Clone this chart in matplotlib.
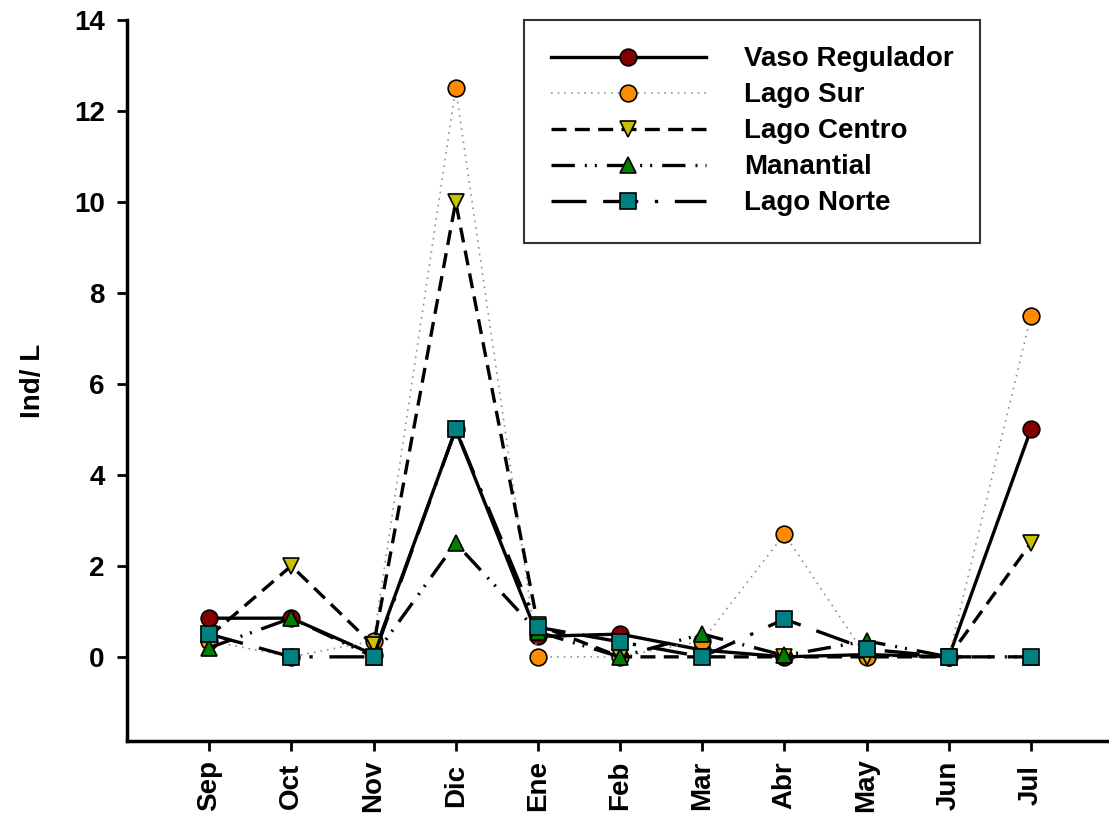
import numpy as np
import matplotlib
matplotlib.use("Agg")
import matplotlib.pyplot as plt
from matplotlib.lines import Line2D

plt.rcParams['font.family'] = ['Liberation Sans', 'DejaVu Sans']
plt.rcParams['font.weight'] = 'bold'

# data
months = ["Sep", "Oct", "Nov", "Dic", "Ene", "Feb", "Mar", "Abr", "May", "Jun", "Jul"]
vaso_regulador = [0.85, 0.85, 0.05, 5.0, 0.45, 0.5, 0.15, 0.0, 0.05, 0.0, 5.0]
lago_sur = [0.35, 0.0, 0.35, 12.5, 0.0, 0.0, 0.35, 2.7, 0.0, 0.0, 7.5]
lago_centro = [0.45, 2.0, 0.25, 10.0, 0.7, 0.0, 0.0, 0.0, 0.0, 0.0, 2.5]
manantial = [0.2, 0.85, 0.0, 2.5, 0.55, 0.0, 0.5, 0.03, 0.35, 0.0, 0.0]
lago_norte = [0.5, 0.0, 0.0, 5.0, 0.65, 0.33, 0.0, 0.83, 0.17, 0.0, 0.0]

x = np.arange(len(months))

fig = plt.figure(figsize=(11.09, 8.25), dpi=100)
ax = fig.add_axes([0.1145, 0.1018, 0.8855, 0.874])

ms = 12
lw = 2.4
fs = 20
series = [
    ("Vaso Regulador", vaso_regulador, dict(color="black", ls="-", lw=lw), "o", "#800000"),
    ("Lago Sur", lago_sur, dict(color="#909090", ls=(0, (1, 3)), lw=1.2), "o", "#FF8C00"),
    ("Lago Centro", lago_centro, dict(color="black", ls=(0, (4.5, 2.5)), lw=lw), "v", "#C8C000"),
    ("Manantial", manantial, dict(color="black", ls=(0, (7, 3, 0.6, 2.4, 0.6, 3)), lw=lw), "^", "#008000"),
    ("Lago Norte", lago_norte, dict(color="black", ls=(0, (10.5, 5, 10.5, 5, 1, 5)), lw=lw), "s", "#008080"),
]

handles = []
for name, vals, style, mk, col in series:
    ax.plot(x, vals, marker=mk, markersize=ms, markerfacecolor=col,
            markeredgecolor="black", markeredgewidth=1.2, **style)
    handles.append(Line2D([], [], marker=mk, markersize=ms, markerfacecolor=col,
                          markeredgecolor="black", markeredgewidth=1.2, **style))

ax.set_xlim(-1, 10.95)
ax.set_ylim(-1.85, 14)
ax.set_xticks(x)
ax.set_xticklabels(months, rotation=90, fontsize=fs, fontweight="bold", va="center")
ax.set_yticks(np.arange(0, 15, 2))
ax.set_yticklabels([str(v) for v in range(0, 15, 2)], fontsize=fs, fontweight="bold")
ax.tick_params(axis="both", direction="out", length=7, width=2)
ax.tick_params(axis="y", pad=9)
ax.tick_params(axis="x", pad=25)
for s in ["top", "right"]:
    ax.spines[s].set_visible(False)
for s in ["left", "bottom"]:
    ax.spines[s].set_linewidth(2.5)

ax.set_ylabel("Ind/ L", fontsize=fs, fontweight="bold", labelpad=20)

leg = ax.legend(handles, [s[0] for s in series], loc="upper left",
                bbox_to_anchor=(0.4045, 1.0), numpoints=1,
                handlelength=5.6, handletextpad=1.35, labelspacing=0.36,
                borderpad=0.95, borderaxespad=0, frameon=True, fancybox=False,
                prop={"weight": "bold", "size": fs})
leg.get_frame().set_edgecolor("black")
leg.get_frame().set_linewidth(1.5)

fig.savefig("out.png", dpi=100)
